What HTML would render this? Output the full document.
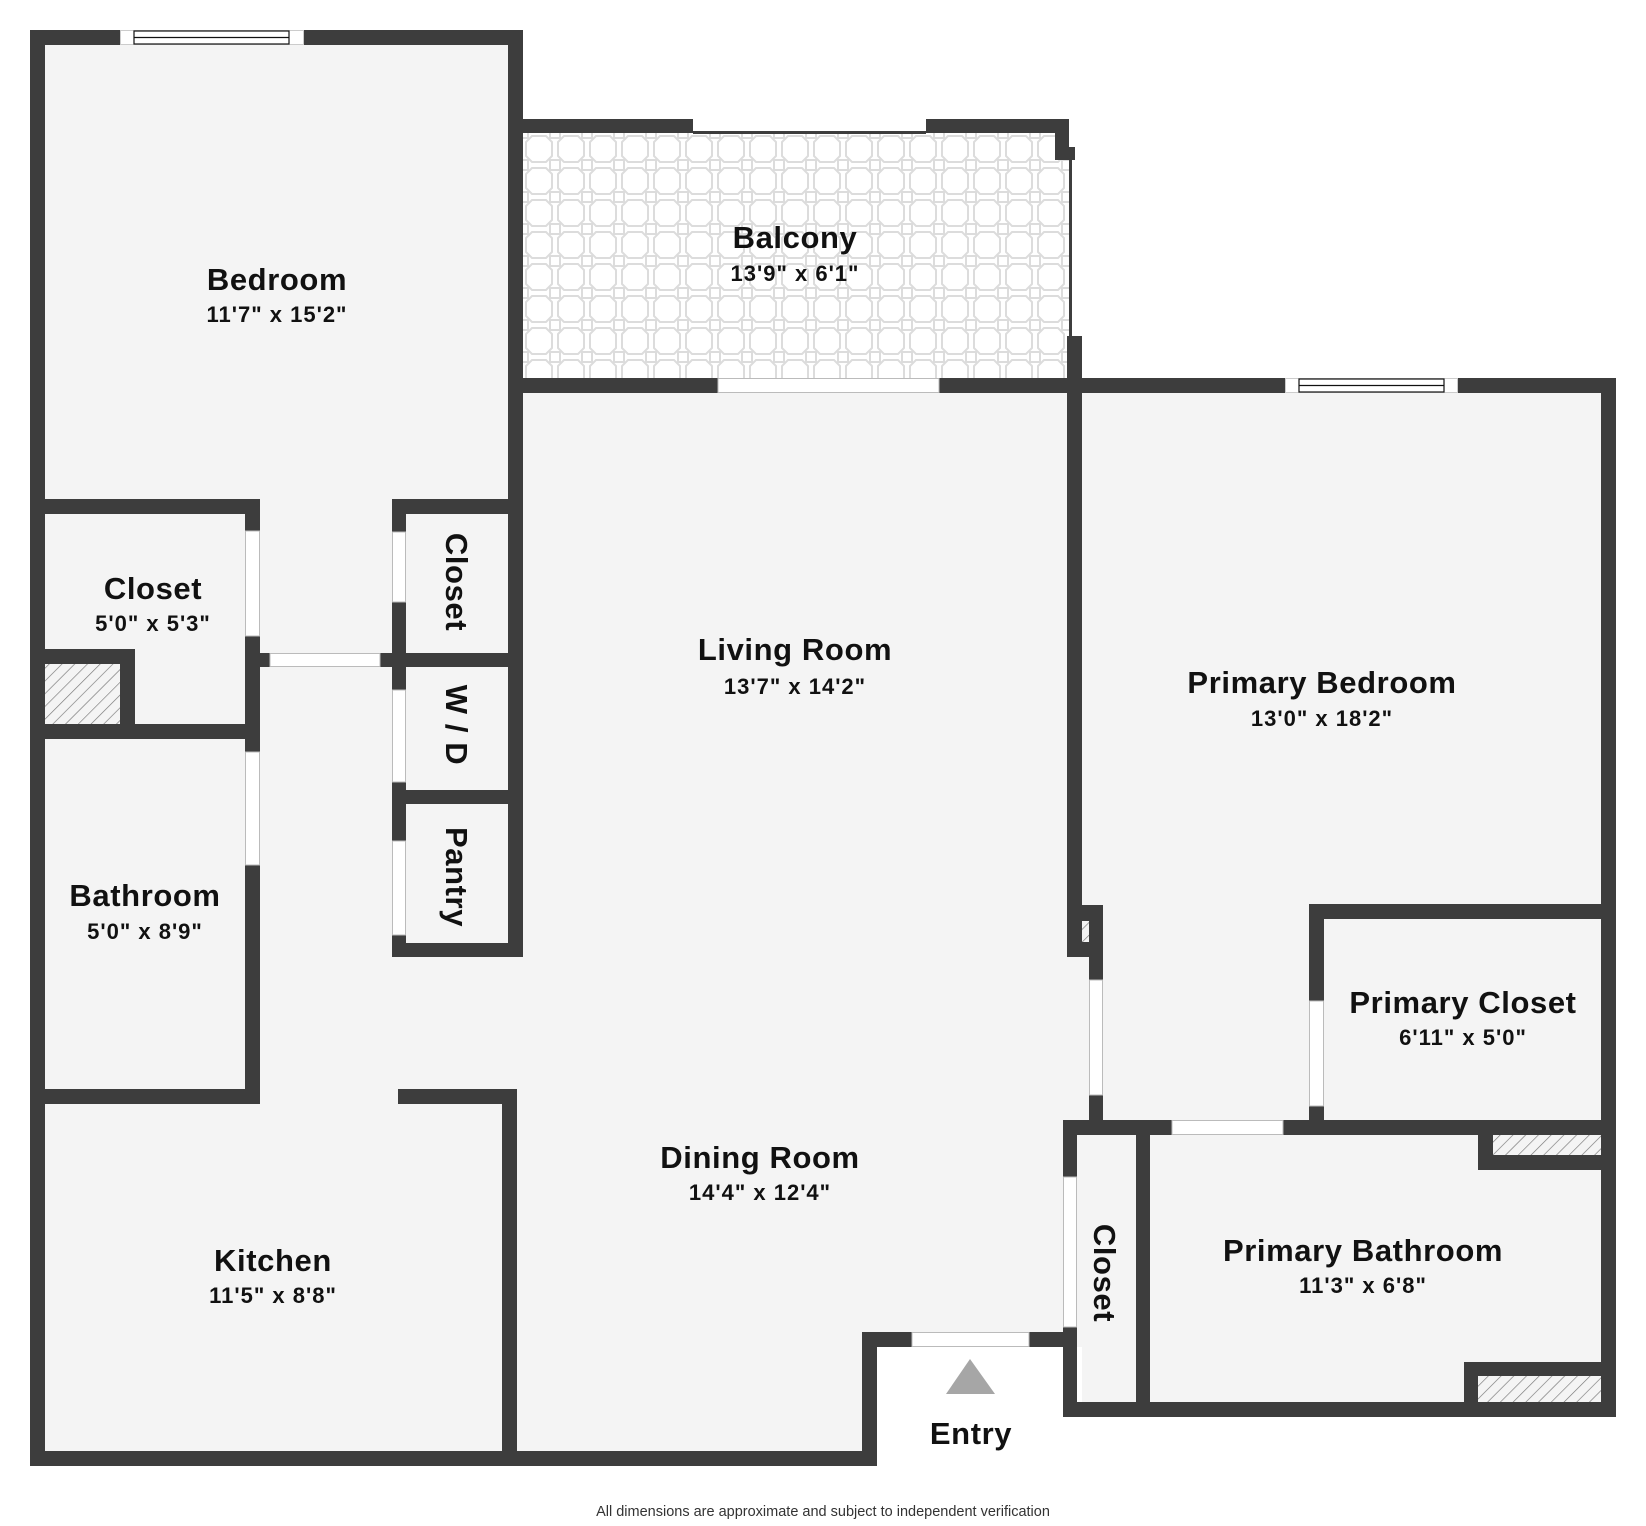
<!DOCTYPE html>
<html><head><meta charset="utf-8"><style>
html,body{margin:0;padding:0;background:#fff;}
svg{display:block;}
.t{font-family:"Liberation Sans",sans-serif;font-weight:bold;fill:#111;text-anchor:middle;}
.n{font-size:31px;letter-spacing:0.6px;}
.d{font-size:22px;letter-spacing:1px;}
</style></head><body>
<svg width="1646" height="1526" viewBox="0 0 1646 1526" xmlns="http://www.w3.org/2000/svg">
<defs>
<pattern id="tile" x="523" y="133" width="32" height="32" patternUnits="userSpaceOnUse">
<rect width="32" height="32" fill="#fff"/>
<path d="M9 3 H23 L29 9 V23 L23 29 H9 L3 23 V9 Z" fill="#fff" stroke="#dcdcdc" stroke-width="2"/>
<rect x="-5" y="-5" width="10" height="10" fill="#fff" stroke="#dcdcdc" stroke-width="2"/>
<rect x="27" y="-5" width="10" height="10" fill="#fff" stroke="#dcdcdc" stroke-width="2"/>
<rect x="-5" y="27" width="10" height="10" fill="#fff" stroke="#dcdcdc" stroke-width="2"/>
<rect x="27" y="27" width="10" height="10" fill="#fff" stroke="#dcdcdc" stroke-width="2"/>
</pattern>
<pattern id="hatch" width="9" height="9" patternUnits="userSpaceOnUse" patternTransform="rotate(45)">
<rect width="9" height="9" fill="#f4f4f4"/>
<line x1="0" y1="0" x2="0" y2="9" stroke="#777" stroke-width="1.3"/>
</pattern>
</defs>
<rect width="1646" height="1526" fill="#fff"/>
<g fill="#f4f4f4">
<rect x="30" y="30" width="493" height="1436"/>
<rect x="508" y="378" width="574" height="1088"/>
<rect x="1067" y="378" width="549" height="1039"/>
</g>
<rect x="877" y="1347" width="205" height="179" fill="#fff"/>
<rect x="523" y="133" width="546" height="245" fill="url(#tile)"/>
<rect x="45" y="664" width="75" height="60" fill="url(#hatch)"/>
<rect x="1082" y="921" width="7" height="21" fill="url(#hatch)"/>
<rect x="1493" y="1135" width="109" height="20" fill="url(#hatch)"/>
<rect x="1478" y="1376" width="124" height="26" fill="url(#hatch)"/>
<g fill="#3d3d3d">
<rect x="30" y="30" width="493" height="15"/>
<rect x="30" y="30" width="15" height="1436"/>
<rect x="508" y="30" width="15" height="927"/>
<rect x="30" y="499" width="230" height="15"/>
<rect x="245" y="499" width="15" height="605"/>
<rect x="392" y="499" width="131" height="15"/>
<rect x="392" y="499" width="14" height="458"/>
<rect x="392" y="653" width="131" height="14"/>
<rect x="392" y="790" width="131" height="14"/>
<rect x="392" y="943" width="131" height="14"/>
<rect x="260" y="653" width="10" height="14"/>
<rect x="380" y="653" width="12" height="14"/>
<rect x="30" y="649" width="105" height="15"/>
<rect x="120" y="649" width="15" height="90"/>
<rect x="30" y="724" width="230" height="15"/>
<rect x="30" y="1089" width="230" height="15"/>
<rect x="398" y="1089" width="119" height="15"/>
<rect x="502" y="1089" width="15" height="377"/>
<rect x="30" y="1451" width="847" height="15"/>
<rect x="862" y="1332" width="15" height="134"/>
<rect x="862" y="1332" width="215" height="15"/>
<rect x="508" y="119" width="185" height="14"/>
<rect x="693" y="131" width="233" height="3"/>
<rect x="926" y="119" width="143" height="14"/>
<rect x="1055" y="119" width="14" height="41"/>
<rect x="1069" y="147" width="6" height="13"/>
<rect x="1069" y="160" width="3" height="176"/>
<rect x="1067" y="336" width="15" height="569"/>
<rect x="508" y="378" width="1108" height="15"/>
<rect x="1601" y="378" width="15" height="1039"/>
<rect x="1067" y="905" width="36" height="16"/>
<rect x="1067" y="905" width="15" height="52"/>
<rect x="1067" y="942" width="36" height="15"/>
<rect x="1089" y="905" width="14" height="230"/>
<rect x="1309" y="904" width="307" height="15"/>
<rect x="1309" y="904" width="15" height="231"/>
<rect x="1063" y="1120" width="553" height="15"/>
<rect x="1063" y="1120" width="14" height="297"/>
<rect x="1136" y="1120" width="14" height="297"/>
<rect x="1063" y="1402" width="553" height="15"/>
<rect x="1478" y="1120" width="15" height="50"/>
<rect x="1478" y="1155" width="138" height="15"/>
<rect x="1464" y="1362" width="152" height="14"/>
<rect x="1464" y="1362" width="14" height="55"/>
</g>
<g fill="#fff" stroke="#bbb" stroke-width="1">
<rect x="245.5" y="531" width="14" height="105"/>
<rect x="245.5" y="752" width="14" height="113"/>
<rect x="270" y="653.5" width="110" height="13"/>
<rect x="392.5" y="532" width="13" height="70"/>
<rect x="392.5" y="690" width="13" height="92"/>
<rect x="392.5" y="841" width="13" height="94"/>
<rect x="718" y="378.5" width="221" height="14"/>
<rect x="912" y="1332.5" width="117" height="14"/>
<rect x="1089.5" y="980" width="13" height="115"/>
<rect x="1309.5" y="1001" width="14" height="105"/>
<rect x="1172" y="1120.5" width="111" height="14"/>
<rect x="1063.5" y="1177" width="13" height="150"/>
</g>
<g fill="#fff" stroke="#ccc" stroke-width="1">
<rect x="120.5" y="30.5" width="183" height="14"/>
<rect x="1285.5" y="378.5" width="172" height="14"/>
</g>
<g fill="none" stroke="#111" stroke-width="1.2">
<rect x="134" y="31" width="155" height="13"/>
<line x1="134" y1="37.5" x2="289" y2="37.5"/>
<rect x="1299" y="379" width="145" height="13"/>
<line x1="1299" y1="385.5" x2="1444" y2="385.5"/>
</g>
<polygon points="970,1359 995,1394 946,1394" fill="#a6a6a6"/>
<text class="t n" x="277" y="290">Bedroom</text>
<text class="t d" x="277" y="322">11'7" x 15'2"</text>
<text class="t n" x="795" y="248">Balcony</text>
<text class="t d" x="795" y="281">13'9" x 6'1"</text>
<text class="t n" x="153" y="599">Closet</text>
<text class="t d" x="153" y="631">5'0" x 5'3"</text>
<text class="t n" x="145" y="906">Bathroom</text>
<text class="t d" x="145" y="939">5'0" x 8'9"</text>
<text class="t n" x="273" y="1271">Kitchen</text>
<text class="t d" x="273" y="1303">11'5" x 8'8"</text>
<text class="t n" x="795" y="660">Living Room</text>
<text class="t d" x="795" y="694">13'7" x 14'2"</text>
<text class="t n" x="760" y="1168">Dining Room</text>
<text class="t d" x="760" y="1200">14'4" x 12'4"</text>
<text class="t n" x="1322" y="693">Primary Bedroom</text>
<text class="t d" x="1322" y="726">13'0" x 18'2"</text>
<text class="t n" x="1463" y="1013">Primary Closet</text>
<text class="t d" x="1463" y="1045">6'11" x 5'0"</text>
<text class="t n" x="1363" y="1261">Primary Bathroom</text>
<text class="t d" x="1363" y="1293">11'3" x 6'8"</text>
<text class="t n" x="971" y="1444">Entry</text>
<text class="t n" transform="translate(457,582) rotate(90)" y="11">Closet</text>
<text class="t n" transform="translate(457,725) rotate(90)" y="11">W / D</text>
<text class="t n" transform="translate(457,877) rotate(90)" y="11">Pantry</text>
<text class="t n" transform="translate(1105,1273) rotate(90)" y="11">Closet</text>
<text x="823" y="1516" font-family="Liberation Sans, sans-serif" font-size="14.5" fill="#333" text-anchor="middle">All dimensions are approximate and subject to independent verification</text>
</svg>
</body></html>
